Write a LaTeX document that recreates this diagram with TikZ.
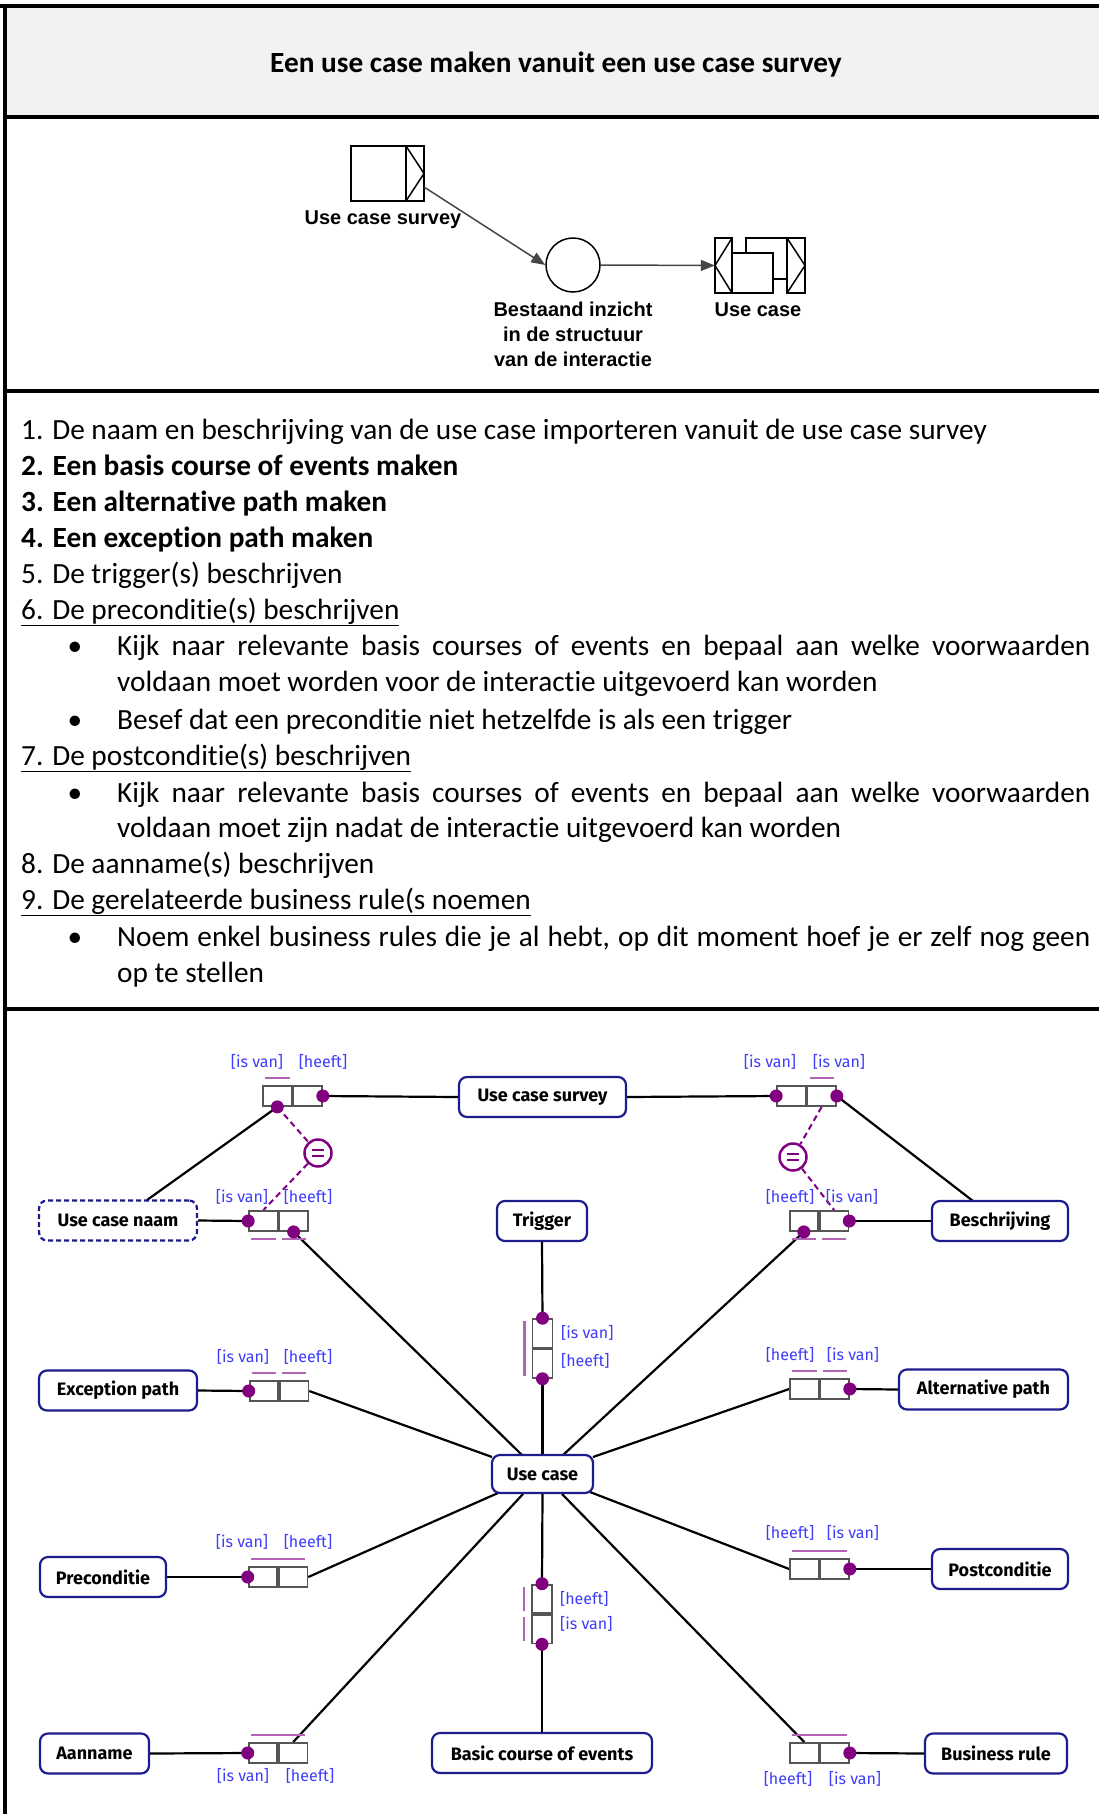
\documentclass[tikz,border=0pt]{standalone}
\usepackage{fontspec}
\setmainfont{Carlito}[Ligatures={NoCommon,NoContextual}]
\newfontfamily\arialf{Liberation Sans}
\newfontfamily\firaf{Fira Sans}
\usetikzlibrary{arrows.meta,calc}
\definecolor{navyb}{RGB}{28,28,140}
\definecolor{purp}{RGB}{128,0,128}
\definecolor{lpurp}{RGB}{180,100,180}
\definecolor{roleblue}{RGB}{60,60,250}
\definecolor{relgray}{RGB}{85,85,85}
\definecolor{hdrgray}{RGB}{242,242,242}
\definecolor{arrgray}{RGB}{70,70,70}
\pgfdeclarelayer{bg}
\pgfsetlayers{bg,main}
\newcommand\hrelation[3]{%
  \node[relcell,anchor=east] (#1a) at (#2,#3) {};
  \node[relcell,anchor=west] (#1b) at (#2,#3) {};}
\newcommand\vrelation[3]{%
  \node[vcell,anchor=south] (#1a) at (#2,#3) {};
  \node[vcell,anchor=north] (#1b) at (#2,#3) {};}
\newcommand\rolelabel[3]{\node[role] at (#1,#2) {#3};}
\begin{document}
\begin{tikzpicture}[x=1pt,y=-1pt,
  ent/.style={draw=navyb, line width=2.2pt, rounded corners=8pt, fill=white,
    minimum height=40pt, inner sep=0pt, font=\firaf\bfseries\fontsize{18}{21}\selectfont},
  relcell/.style={draw=relgray, line width=1.8pt, fill=white, minimum width=28.5pt,
    minimum height=20pt, inner sep=0pt},
  vcell/.style={draw=relgray, line width=1.8pt, fill=white, minimum width=20pt,
    minimum height=28.5pt, inner sep=0pt},
  role/.style={text=roleblue, font=\firaf\fontsize{16}{19}\selectfont, inner sep=0pt},
  conn/.style={line width=2.2pt, draw=black},
  ubar/.style={draw=lpurp, line width=2.5pt},
  dotc/.style={fill=purp},
  eqd/.style={draw=purp, line width=2pt, dash pattern=on 6pt off 4pt},
  framel/.style={line width=4pt, draw=black},
  lst/.style={anchor=base west, inner sep=0pt, font=\fontsize{29.3}{36}\selectfont},
  bul/.style={anchor=base, inner sep=0pt, font=\fontsize{29.3}{36}\selectfont},
  symline/.style={line width=1.5pt, draw=black},
  symlab/.style={anchor=base, inner sep=0pt, font=\arialf\bfseries\fontsize{20}{25}\selectfont},
  flowarrow/.style={line width=1.5pt, draw=arrgray, -{Triangle[length=14pt,width=11pt]}}
]
\useasboundingbox (0,0) rectangle (1099,1814);
% ---------- frame ----------
\fill[hdrgray] (5,6) rectangle (1099,117);
\draw[framel] (0,6) -- (1099,6);
\draw[framel] (5,4) -- (5,1814);
\draw[framel] (3,117) -- (1099,117);
\draw[framel] (3,391) -- (1099,391);
\draw[framel] (3,1009) -- (1099,1009);
\node[anchor=base, inner sep=0pt, font=\bfseries\fontsize{29.3}{36}\selectfont] (title) at (556,73)
  {Een use case maken vanuit een use case survey};
% ---------- process diagram ----------
\node[draw, line width=1.5pt, minimum width=73pt, minimum height=55pt, inner sep=0pt] (sym) at (387.5,173.5) {};
\draw[symline] (406,146) -- (406,201);
\draw[symline] (406,146) -- (424,173.5) -- (406,201);
\node[symlab] (symlabel) at (383,224) {Use case survey};
\node[circle, draw, line width=1.5pt, minimum size=54pt, inner sep=0pt] (circ) at (573,265) {};
\node[symlab] (cl1) at (573,316) {Bestaand inzicht};
\node[symlab] (cl2) at (573,341) {in de structuur};
\node[symlab] (cl3) at (573,366) {van de interactie};
\node[minimum width=90pt, minimum height=55pt, inner sep=0pt] (ucs) at (760,265.5) {};
\draw[symline] (715,238) rectangle (732,293);
\draw[symline] (732,238) -- (715,265.5) -- (732,293);
\draw[symline] (732,253) rectangle (773,293);
\draw[symline] (746,253) -- (746,238) -- (787,238);
\draw[symline] (773,279) -- (787,279);
\draw[symline] (787,238) rectangle (805,293);
\draw[symline] (787,238) -- (805,265.5) -- (787,293);
\node[symlab] (uclabel) at (758,316) {Use case};
\coordinate (a1s) at (424,187);
\draw[flowarrow] (a1s) -- (circ.west);
\draw[flowarrow] (circ.east) -- (ucs.west);
% ---------- list ----------
\node[lst] (l1) at (21,439) {1. De naam en beschrijving van de use case importeren vanuit de use case survey};
\node[lst] (l2) at (21,475) {\bfseries 2. Een basis course of events maken};
\node[lst] (l3) at (21,511) {\bfseries 3. Een alternative path maken};
\node[lst] (l4) at (21,547) {\bfseries 4. Een exception path maken};
\node[lst] (l5) at (21,583) {5. De trigger(s) beschrijven};
\node[lst] (l6) at (21,619) {\underline{6. De preconditie(s) beschrijven}};
\node[bul] (b1) at (75,655) {\textbullet};
\node[lst] (l6a) at (117,655) {\makebox[973pt][s]{Kijk naar relevante basis courses of events en bepaal aan welke voorwaarden}};
\node[lst] (l6b) at (117,691) {voldaan moet worden voor de interactie uitgevoerd kan worden};
\node[bul] (b2) at (75,729) {\textbullet};
\node[lst] (l6c) at (117,729) {Besef dat een preconditie niet hetzelfde is als een trigger};
\node[lst] (l7) at (21,765) {\underline{7. De postconditie(s) beschrijven}};
\node[bul] (b3) at (75,802) {\textbullet};
\node[lst] (l7a) at (117,802) {\makebox[973pt][s]{Kijk naar relevante basis courses of events en bepaal aan welke voorwaarden}};
\node[lst] (l7b) at (117,837) {voldaan moet zijn nadat de interactie uitgevoerd kan worden};
\node[lst] (l8) at (21,873) {8. De aanname(s) beschrijven};
\node[lst] (l9) at (21,909) {\underline{9. De gerelateerde business rule(s noemen}};
\node[bul] (b4) at (75,946) {\textbullet};
\node[lst] (l9a) at (117,946) {\makebox[973pt][s]{Noem enkel business rules die je al hebt, op dit moment hoef je er zelf nog geen}};
\node[lst] (l9b) at (117,982) {op te stellen};
% ---------- fact model: entities ----------
\node[ent, minimum width=167pt] (survey) at (542.5,1097) {Use case survey};
\node[ent, minimum width=158pt, dashed, dash pattern=on 5pt off 3pt] (naam) at (118,1220.5) {Use case naam};
\node[ent, minimum width=90pt] (trigger) at (542,1221) {Trigger};
\node[ent, minimum width=136pt] (besch) at (1000,1221) {Beschrijving};
\node[ent, minimum width=158pt] (exc) at (118,1390.5) {Exception path};
\node[ent, minimum width=169pt] (alt) at (983.5,1389.5) {Alternative path};
\node[ent, minimum width=101pt, minimum height=38pt] (uc) at (542.5,1474) {Use case};
\node[ent, minimum width=126pt] (pre) at (103,1577) {Preconditie};
\node[ent, minimum width=136pt] (post) at (1000,1569) {Postconditie};
\node[ent, minimum width=109pt] (aan) at (94.5,1753.5) {Aanname};
\node[ent, minimum width=220pt] (basic) at (542,1753) {Basic course of events};
\node[ent, minimum width=142pt] (bus) at (996,1753.5) {Business rule};
% ---------- relations ----------
\hrelation{R1}{292.5}{1096}
\hrelation{R2}{806.5}{1096}
\hrelation{R3}{278.5}{1221}
\hrelation{R4}{819}{1221}
\hrelation{R5}{279}{1391}
\hrelation{R6}{819.5}{1389}
\hrelation{R7}{278}{1577}
\hrelation{R8}{819.5}{1569}
\hrelation{R9}{278}{1753}
\hrelation{R10}{819.5}{1753}
\vrelation{V1}{542.5}{1348.5}
\vrelation{V2}{542}{1614}
% equality constraints
\node[circle, draw=purp, line width=2.5pt, fill=white, minimum size=27pt, inner sep=0pt] (E1) at (318,1153) {};
\node[circle, draw=purp, line width=2.5pt, fill=white, minimum size=27pt, inner sep=0pt] (E2) at (793,1157) {};
\foreach \e in {E1,E2}{
  \draw[purp, line width=2.5pt] ($(\e)+(-6,-3)$) -- ($(\e)+(6,-3)$);
  \draw[purp, line width=2.5pt] ($(\e)+(-6,3)$) -- ($(\e)+(6,3)$);
}
% attachment points on Use case box and entities
\coordinate (naamtop) at (147,1200);
\coordinate (beschtop) at (973,1201);
\coordinate (ucA) at (522,1455);
\coordinate (ucC) at (563,1455);
\coordinate (ucL) at (492,1457);
\coordinate (ucR) at (593,1457);
\coordinate (ucBL) at (498,1493);
\coordinate (ucBR) at (590,1492);
\coordinate (ucB1) at (523,1494);
\coordinate (ucB3) at (562,1494);
% ---------- connectors ----------
\begin{pgfonlayer}{bg}
\draw[conn] (R1b.east) -- (survey.west);
\draw[conn] (R1a.south) -- (naamtop);
\draw[conn] (survey.east) -- (R2a.west);
\draw[conn] (R2b.east) -- (beschtop);
\draw[conn] (naam.east) -- (R3a.west);
\draw[conn] (R3b.south) -- (ucA);
\draw[conn] (R4b.east) -- (besch.west);
\draw[conn] (R4a.south) -- (ucC);
\draw[conn] (trigger.south) -- (V1a.north);
\draw[conn] (V1b.south) -- (uc.north);
\draw[conn] (exc.east) -- (R5a.west);
\draw[conn] (R5b.east) -- (ucL);
\draw[conn] (R6b.east) -- (alt.west);
\draw[conn] (R6a.west) -- (ucR);
\draw[conn] (pre.east) -- (R7a.west);
\draw[conn] (R7b.east) -- (ucBL);
\draw[conn] (R8b.east) -- (post.west);
\draw[conn] (R8a.west) -- (ucBR);
\draw[conn] (aan.east) -- (R9a.west);
\draw[conn] (R9b.north) -- (ucB1);
\draw[conn] (R10b.east) -- (bus.west);
\draw[conn] (R10a.north) -- (ucB3);
\draw[conn] (uc.south) -- (V2a.north);
\draw[conn] (V2b.south) -- (basic.north);
\draw[eqd] (R1a.south) -- (E1);
\draw[eqd] (E1) -- (R3a.north);
\draw[eqd] (R2b.south) -- (E2);
\draw[eqd] (E2) -- (R4b.north);
\end{pgfonlayer}
% ---------- uniqueness bars ----------
\draw[ubar] ($(R1a.north west)+(3,-7)$) -- ($(R1a.north east)+(-3,-7)$);
\draw[ubar] ($(R2b.north west)+(3,-7)$) -- ($(R2b.north east)+(-3,-7)$);
\draw[ubar] ($(R3a.south west)+(3,7)$) -- ($(R3a.south east)+(-3,7)$);
\draw[ubar] ($(R3b.south west)+(3,7)$) -- ($(R3b.south east)+(-3,7)$);
\draw[ubar] ($(R4a.south west)+(3,7)$) -- ($(R4a.south east)+(-3,7)$);
\draw[ubar] ($(R4b.south west)+(3,7)$) -- ($(R4b.south east)+(-3,7)$);
\draw[ubar] ($(R5a.north west)+(3,-7)$) -- ($(R5a.north east)+(-3,-7)$);
\draw[ubar] ($(R5b.north west)+(3,-7)$) -- ($(R5b.north east)+(-3,-7)$);
\draw[ubar] ($(R6a.north west)+(3,-7)$) -- ($(R6a.north east)+(-3,-7)$);
\draw[ubar] ($(R6b.north west)+(3,-7)$) -- ($(R6b.north east)+(-3,-7)$);
\draw[ubar] ($(R7a.north west)+(3,-7)$) -- ($(R7b.north east)+(-3,-7)$);
\draw[ubar] ($(R8a.north west)+(3,-7)$) -- ($(R8b.north east)+(-3,-7)$);
\draw[ubar] ($(R9a.north west)+(3,-7)$) -- ($(R9b.north east)+(-3,-7)$);
\draw[ubar] ($(R10a.north west)+(3,-7)$) -- ($(R10b.north east)+(-3,-7)$);
\draw[ubar] ($(V1a.north west)+(-7,3)$) -- ($(V1b.south west)+(-7,-3)$);
\draw[ubar] ($(V2a.north west)+(-7,3)$) -- ($(V2a.south west)+(-7,-3)$);
\draw[ubar] ($(V2b.north west)+(-7,3)$) -- ($(V2b.south west)+(-7,-3)$);
% ---------- role dots ----------
\foreach \p in {R1b.east,R1a.south,R2a.west,R2b.east,R3a.west,R3b.south,R4b.east,R4a.south,
  R5a.west,R6b.east,R7a.west,R8b.east,R9a.west,R10b.east,V1a.north,V1b.south,V2a.north,V2b.south}
  {\fill[dotc] (\p) circle (6.5pt);}
% ---------- role labels ----------
\rolelabel{257}{1062}{[is van]}\rolelabel{323}{1062}{[heeft]}
\rolelabel{770}{1062}{[is van]}\rolelabel{839}{1062}{[is van]}
\rolelabel{242}{1197}{[is van]}\rolelabel{308}{1197}{[heeft]}
\rolelabel{790}{1197}{[heeft]}\rolelabel{852}{1197}{[is van]}
\rolelabel{243}{1357}{[is van]}\rolelabel{308}{1357}{[heeft]}
\rolelabel{790}{1355}{[heeft]}\rolelabel{853}{1355}{[is van]}
\rolelabel{242}{1542}{[is van]}\rolelabel{308}{1542}{[heeft]}
\rolelabel{790}{1533}{[heeft]}\rolelabel{853}{1533}{[is van]}
\rolelabel{243}{1776}{[is van]}\rolelabel{310}{1776}{[heeft]}
\rolelabel{788}{1779}{[heeft]}\rolelabel{855}{1779}{[is van]}
\node[role, anchor=west] at (561,1333) {[is van]};
\node[role, anchor=west] at (561,1361) {[heeft]};
\node[role, anchor=west] at (560,1599) {[heeft]};
\node[role, anchor=west] at (560,1624) {[is van]};
\end{tikzpicture}
\end{document}
